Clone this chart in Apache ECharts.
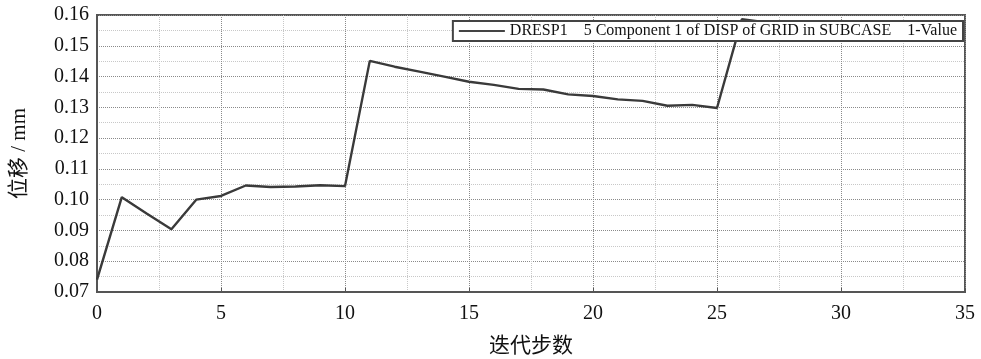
<!DOCTYPE html>
<html>
<head>
<meta charset="utf-8">
<script src="https://cdn.jsdelivr.net/npm/echarts@6/dist/echarts.min.js"></script>
<style>
  html, body { margin: 0; padding: 0; background: #fff; }
  #chart { width: 981px; height: 359px; }
</style>
</head>
<body>
<div id="chart"></div>
<script>
// Iteration history of the displacement response
const iterations = [0, 1, 2, 3, 4, 5, 6, 7, 8, 9, 10, 11, 12, 13, 14, 15, 16, 17, 18, 19, 20, 21, 22, 23, 24, 25, 26, 27];
const displacement = [0.074, 0.1008, 0.0955, 0.0904, 0.1000, 0.1012, 0.1046, 0.1041, 0.1043, 0.1047, 0.1044,
  0.1451, 0.1432, 0.1416, 0.1400, 0.1383, 0.1373, 0.1360, 0.1358, 0.1342, 0.1337, 0.1326, 0.1321,
  0.1305, 0.1308, 0.1298, 0.1586, 0.1576];
const seriesName = 'DRESP1    5 Component 1 of DISP of GRID in SUBCASE    1-Value';
const xTicks = [0, 5, 10, 15, 20, 25, 30, 35];
const yTicks = [0.07, 0.08, 0.09, 0.10, 0.11, 0.12, 0.13, 0.14, 0.15, 0.16];

const serif = '"Liberation Serif", "Times New Roman", serif';
const cjk = '"Liberation Serif", "Noto Sans CJK SC", serif';

const chart = echarts.init(document.getElementById('chart'), null, { renderer: 'canvas' });

const series = [{
  name: seriesName,
  type: 'line',
  data: iterations.map((x, i) => [x, displacement[i]]),
  showSymbol: false,
  lineStyle: { color: '#3a3a3a', width: 2.4 },
  itemStyle: { color: '#3a3a3a' },
  z: 2
}];

chart.setOption({
  animation: false,
  backgroundColor: '#fff',
  grid: {
    left: 97, right: 16, top: 15, bottom: 67,
    containLabel: false,
    outerBoundsMode: 'none',
    show: true, borderColor: '#555', borderWidth: 2, backgroundColor: 'transparent'
  },
  legend: {
    data: [{ name: seriesName, icon: 'rect' }],
    right: 18, top: 21,
    itemWidth: 46, itemHeight: 2,
    itemGap: 6,
    padding: [2, 6, 2, 6],
    backgroundColor: '#fff',
    borderColor: '#444', borderWidth: 2,
    textStyle: { fontFamily: serif, fontSize: 16, color: '#111' },
    itemStyle: { color: '#444' },
    z: 10
  },
  xAxis: {
    type: 'value',
    min: xTicks[0], max: xTicks[xTicks.length - 1], interval: 5,
    name: '迭代步数',
    nameLocation: 'middle', nameGap: 44,
    nameTextStyle: { fontFamily: cjk, fontSize: 21, color: '#111' },
    axisLine: { show: true, lineStyle: { color: '#555', width: 2 } },
    axisTick: { show: true, inside: true, length: 4, lineStyle: { color: '#555' } },
    axisLabel: { fontFamily: serif, fontSize: 20, color: '#111', margin: 12 },
    splitLine: { show: true, lineStyle: { color: '#8a8a8a', type: 'dotted', width: 1 } },
    minorTick: { show: false, splitNumber: 2 },
    minorSplitLine: { show: true, lineStyle: { color: '#c8c8c8', type: 'dotted', width: 1 } }
  },
  yAxis: {
    type: 'value',
    min: yTicks[0], max: yTicks[yTicks.length - 1], interval: 0.01,
    name: '位移 / mm',
    nameLocation: 'middle', nameGap: 67, nameRotate: 90,
    nameTextStyle: { fontFamily: cjk, fontSize: 21, color: '#111' },
    axisLine: { show: true, lineStyle: { color: '#555', width: 2 } },
    axisTick: { show: false },
    axisLabel: {
      fontFamily: serif, fontSize: 20, color: '#111', margin: 8,
      formatter: v => v.toFixed(2)
    },
    splitLine: { show: true, lineStyle: { color: '#8a8a8a', type: 'dotted', width: 1 } },
    minorTick: { show: false, splitNumber: 2 },
    minorSplitLine: { show: true, lineStyle: { color: '#c8c8c8', type: 'dotted', width: 1 } }
  },
  series: series
});
</script>
</body>
</html>
